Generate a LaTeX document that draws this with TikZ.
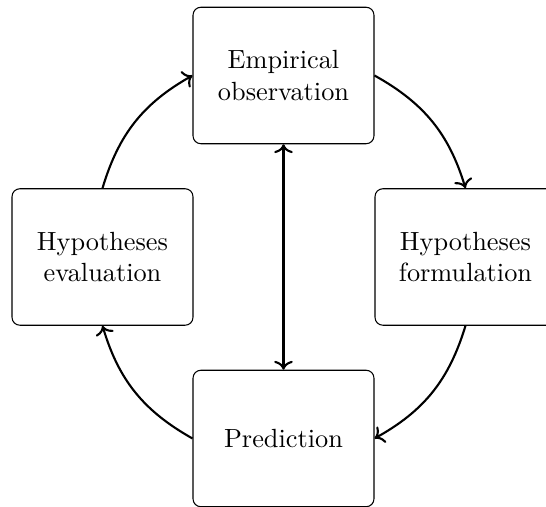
\documentclass[tikz,border=0pt]{standalone}
\usetikzlibrary{arrows.meta}
\begin{document}
\begin{tikzpicture}[x=0.3802pt,y=-0.3802pt,
  stagebox/.style={draw, line width=0.4pt, rounded corners=3pt, minimum width=68.8pt, minimum height=51.9pt, align=center, inner sep=2pt},
  conn/.style={->, line width=0.8pt}]
\useasboundingbox (0,0) rectangle (546,507);
\node[stagebox] (top) at (283.5,75.5) {Empirical\\observation};
\node[stagebox] (left) at (102.5,257) {Hypotheses\\evaluation};
\node[stagebox] (right) at (465.5,257) {Hypotheses\\formulation};
\node[stagebox] (bottom) at (283.5,438.5) {Prediction};
\draw[conn] (top.east) to[bend left=22] (right.north);
\draw[conn] (right.south) to[bend left=22] (bottom.east);
\draw[conn] (bottom.west) to[bend left=22] (left.south);
\draw[conn] (left.north) to[bend left=22] (top.west);
\draw[conn, <->] (top) -- (bottom);
\end{tikzpicture}
\end{document}
